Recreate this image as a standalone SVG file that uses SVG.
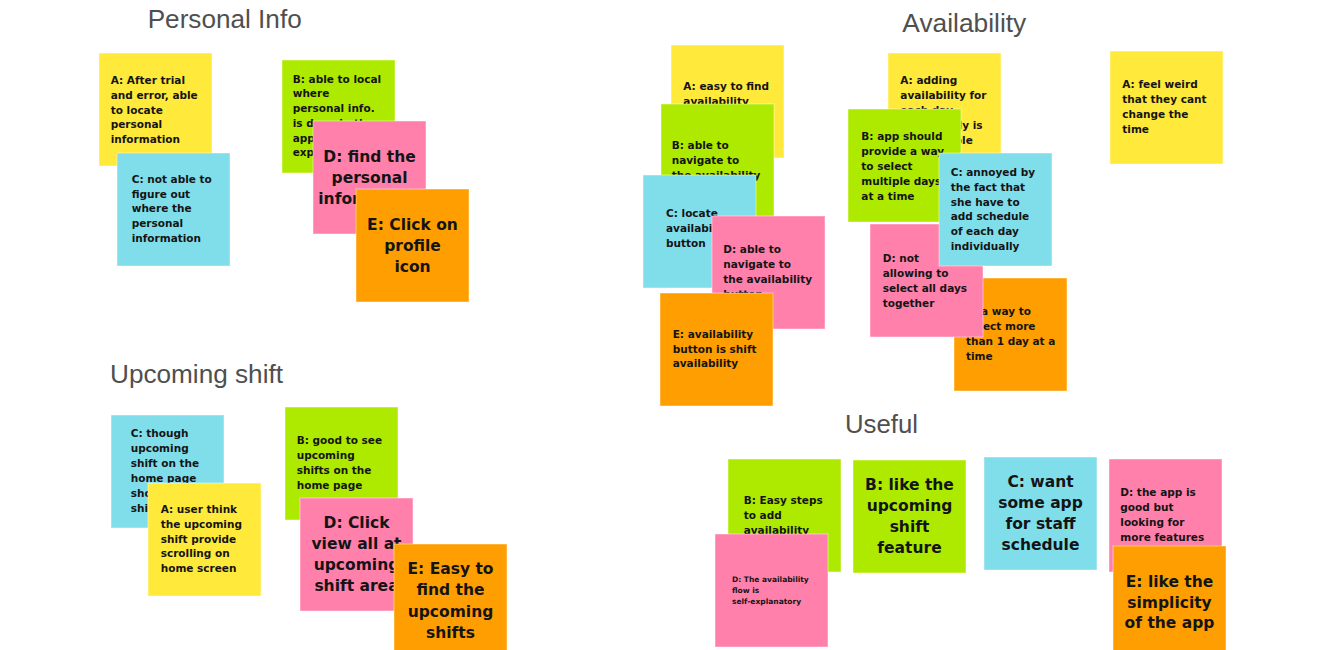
<svg xmlns="http://www.w3.org/2000/svg" width="1330" height="650" viewBox="0 0 1330 650">
<style>
.bg{fill:#ffffff}
.n{stroke:#ffffff;stroke-opacity:0.45;stroke-width:1}
.y{fill:#FFE93B}.g{fill:#AEEA00}.c{fill:#80DEEA}.p{fill:#FF80AB}.o{fill:#FF9E00}
.t{font-family:"Liberation Sans",Arial,sans-serif;font-size:25.5px;fill:#4f4f4f}
.s{font-family:"DejaVu Sans","Noto Sans",sans-serif;font-weight:bold;font-size:10.5px;fill:#141414}
.l{font-family:"DejaVu Sans","Noto Sans",sans-serif;font-weight:bold;font-size:15.5px;fill:#141414;text-anchor:middle}
.xs{font-family:"DejaVu Sans","Noto Sans",sans-serif;font-weight:bold;font-size:7.5px;fill:#141414}
</style>
<rect class="bg" x="0" y="0" width="1330" height="650"/>

<g id="titles">
<text class="t" x="147.7" y="28" textLength="154" lengthAdjust="spacingAndGlyphs">Personal Info</text>
<text class="t" x="110" y="383.3" textLength="173" lengthAdjust="spacingAndGlyphs">Upcoming shift</text>
<text class="t" x="902.3" y="31.7" textLength="124" lengthAdjust="spacingAndGlyphs">Availability</text>
<text class="t" x="845" y="432.7" textLength="73" lengthAdjust="spacingAndGlyphs">Useful</text>
</g>

<!-- Personal Info -->
<g id="pi-a"><rect class="n y" x="99" y="53" width="113" height="113"/>
<text class="s"><tspan x="110.7" y="84">A: After trial</tspan><tspan x="110.7" y="98.8">and error, able</tspan><tspan x="110.7" y="113.6">to locate</tspan><tspan x="110.7" y="128.4">personal</tspan><tspan x="110.7" y="143.2">information</tspan></text></g>
<g id="pi-c"><rect class="n c" x="117" y="153" width="113" height="113"/>
<text class="s"><tspan x="131.7" y="182.7">C: not able to</tspan><tspan x="131.7" y="197.5">figure out</tspan><tspan x="131.7" y="212.3">where the</tspan><tspan x="131.7" y="227.1">personal</tspan><tspan x="131.7" y="241.9">information</tspan></text></g>
<g id="pi-b"><rect class="n g" x="282" y="60" width="113" height="113"/>
<text class="s"><tspan x="292.7" y="82.7">B: able to local</tspan><tspan x="292.7" y="97.4">where</tspan><tspan x="292.7" y="112.1">personal info.</tspan><tspan x="292.7" y="127.2">is done in the</tspan><tspan x="292.7" y="142.2">app as</tspan><tspan x="292.7" y="156.4">expected</tspan></text></g>
<g id="pi-d"><rect class="n p" x="313" y="121" width="113" height="113"/>
<text class="l"><tspan x="369.5" y="161.7">D: find the</tspan><tspan x="369.5" y="182.7">personal</tspan><tspan x="369.5" y="203.5">information</tspan></text></g>
<g id="pi-e"><rect class="n o" x="356" y="189" width="113" height="113"/>
<text class="l"><tspan x="412.5" y="230">E: Click on</tspan><tspan x="412.5" y="250.8">profile</tspan><tspan x="412.5" y="271.6">icon</tspan></text></g>

<!-- Upcoming shift -->
<g id="us-c"><rect class="n c" x="111" y="415" width="113" height="113"/>
<text class="s"><tspan x="130.7" y="437.3">C: though</tspan><tspan x="130.7" y="452.2">upcoming</tspan><tspan x="130.7" y="467.1">shift on the</tspan><tspan x="130.7" y="482">home page</tspan><tspan x="130.7" y="496.9">should show</tspan><tspan x="130.7" y="511.8">shifts</tspan></text></g>
<g id="us-a"><rect class="n y" x="148" y="483" width="113" height="113"/>
<text class="s"><tspan x="160.7" y="513">A: user think</tspan><tspan x="160.7" y="527.8">the upcoming</tspan><tspan x="160.7" y="542.6">shift provide</tspan><tspan x="160.7" y="557.4">scrolling on</tspan><tspan x="160.7" y="572.2">home screen</tspan></text></g>
<g id="us-b"><rect class="n g" x="285" y="407" width="113" height="113"/>
<text class="s"><tspan x="296.7" y="444.3">B: good to see</tspan><tspan x="296.7" y="459.3">upcoming</tspan><tspan x="296.7" y="474.3">shifts on the</tspan><tspan x="296.7" y="489.3">home page</tspan></text></g>
<g id="us-d"><rect class="n p" x="300" y="498" width="113" height="113"/>
<text class="l"><tspan x="356.5" y="528.3">D: Click</tspan><tspan x="356.5" y="549.1">view all at</tspan><tspan x="356.5" y="569.9">upcoming</tspan><tspan x="356.5" y="590.7">shift area</tspan></text></g>
<g id="us-e"><rect class="n o" x="394" y="544" width="113" height="113"/>
<text class="l"><tspan x="450.5" y="574.3">E: Easy to</tspan><tspan x="450.5" y="595.4">find the</tspan><tspan x="450.5" y="616.5">upcoming</tspan><tspan x="450.5" y="637.6">shifts</tspan></text></g>

<!-- Availability left cluster -->
<g id="av-a1"><rect class="n y" x="671" y="45" width="113" height="113"/>
<text class="s"><tspan x="683.3" y="90">A: easy to find</tspan><tspan x="683.3" y="105">availability</tspan></text></g>
<g id="av-b1"><rect class="n g" x="661" y="104" width="113" height="113"/>
<text class="s"><tspan x="671.7" y="149.3">B: able to</tspan><tspan x="671.7" y="164">navigate to</tspan><tspan x="671.7" y="178.7">the availability</tspan></text></g>
<g id="av-c1"><rect class="n c" x="643" y="175" width="113" height="113"/>
<text class="s"><tspan x="666" y="216.7">C: locate</tspan><tspan x="666" y="231.7">availability</tspan><tspan x="666" y="246.7">button</tspan></text></g>
<g id="av-d1"><rect class="n p" x="712" y="216" width="113" height="113"/>
<text class="s"><tspan x="723.3" y="253.3">D: able to</tspan><tspan x="723.3" y="268.3">navigate to</tspan><tspan x="723.3" y="283.3">the availability</tspan><tspan x="723.3" y="298.3">button</tspan></text></g>
<g id="av-e1"><rect class="n o" x="660" y="293" width="113" height="113"/>
<text class="s"><tspan x="672.7" y="337.7">E: availability</tspan><tspan x="672.7" y="352.5">button is shift</tspan><tspan x="672.7" y="367.3">availability</tspan></text></g>

<!-- Availability middle cluster -->
<g id="av-a2"><rect class="n y" x="888" y="53" width="113" height="113"/>
<text class="s"><tspan x="900.3" y="84">A: adding</tspan><tspan x="900.3" y="99">availability for</tspan><tspan x="900.3" y="114">each day</tspan><tspan x="900.3" y="129">individually is</tspan><tspan x="900.3" y="144">manageable</tspan></text></g>
<g id="av-b2"><rect class="n g" x="848" y="109" width="113" height="113"/>
<text class="s"><tspan x="861.3" y="140">B: app should</tspan><tspan x="861.3" y="155">provide a way</tspan><tspan x="861.3" y="170">to select</tspan><tspan x="861.3" y="185">multiple days</tspan><tspan x="861.3" y="200">at a time</tspan></text></g>
<g id="av-e2"><rect class="n o" x="954" y="278" width="113" height="113"/>
<text class="s"><tspan x="966" y="315">E: a way to</tspan><tspan x="966" y="330">select more</tspan><tspan x="966" y="345">than 1 day at a</tspan><tspan x="966" y="360">time</tspan></text></g>
<g id="av-d2"><rect class="n p" x="870" y="224" width="113" height="113"/>
<text class="s"><tspan x="882.7" y="261.7">D: not</tspan><tspan x="882.7" y="276.7">allowing to</tspan><tspan x="882.7" y="291.7">select all days</tspan><tspan x="882.7" y="306.7">together</tspan></text></g>
<g id="av-c2"><rect class="n c" x="939" y="153" width="113" height="113"/>
<text class="s"><tspan x="950.7" y="175.7">C: annoyed by</tspan><tspan x="950.7" y="190.6">the fact that</tspan><tspan x="950.7" y="205.5">she have to</tspan><tspan x="950.7" y="220.4">add schedule</tspan><tspan x="950.7" y="235.3">of each day</tspan><tspan x="950.7" y="250.2">individually</tspan></text></g>
<g id="av-a3"><rect class="n y" x="1110" y="51" width="113" height="113"/>
<text class="s"><tspan x="1122.3" y="88.3">A: feel weird</tspan><tspan x="1122.3" y="103.3">that they cant</tspan><tspan x="1122.3" y="118.3">change the</tspan><tspan x="1122.3" y="133.3">time</tspan></text></g>

<!-- Useful -->
<g id="u-b1"><rect class="n g" x="728" y="459" width="113" height="113"/>
<text class="s"><tspan x="743.7" y="504.3">B: Easy steps</tspan><tspan x="743.7" y="519.3">to add</tspan><tspan x="743.7" y="534.3">availability</tspan></text></g>
<g id="u-d1"><rect class="n p" x="715" y="534" width="113" height="113"/>
<text class="xs"><tspan x="732" y="582.3">D: The availability</tspan><tspan x="732" y="593.2">flow is</tspan><tspan x="732" y="604.1">self-explanatory</tspan></text></g>
<g id="u-b2"><rect class="n g" x="853" y="460" width="113" height="113"/>
<text class="l"><tspan x="909.5" y="490">B: like the</tspan><tspan x="909.5" y="511.1">upcoming</tspan><tspan x="909.5" y="532.2">shift</tspan><tspan x="909.5" y="553.3">feature</tspan></text></g>
<g id="u-c"><rect class="n c" x="984" y="457" width="113" height="113"/>
<text class="l"><tspan x="1040.5" y="487.3">C: want</tspan><tspan x="1040.5" y="508.2">some app</tspan><tspan x="1040.5" y="529.1">for staff</tspan><tspan x="1040.5" y="550">schedule</tspan></text></g>
<g id="u-d2"><rect class="n p" x="1109" y="459" width="113" height="113"/>
<text class="s"><tspan x="1120.3" y="496">D: the app is</tspan><tspan x="1120.3" y="510.9">good but</tspan><tspan x="1120.3" y="525.8">looking for</tspan><tspan x="1120.3" y="540.7">more features</tspan></text></g>
<g id="u-e"><rect class="n o" x="1113" y="546" width="113" height="113"/>
<text class="l"><tspan x="1169.5" y="586.7">E: like the</tspan><tspan x="1169.5" y="607.5">simplicity</tspan><tspan x="1169.5" y="628.3">of the app</tspan></text></g>
</svg>
